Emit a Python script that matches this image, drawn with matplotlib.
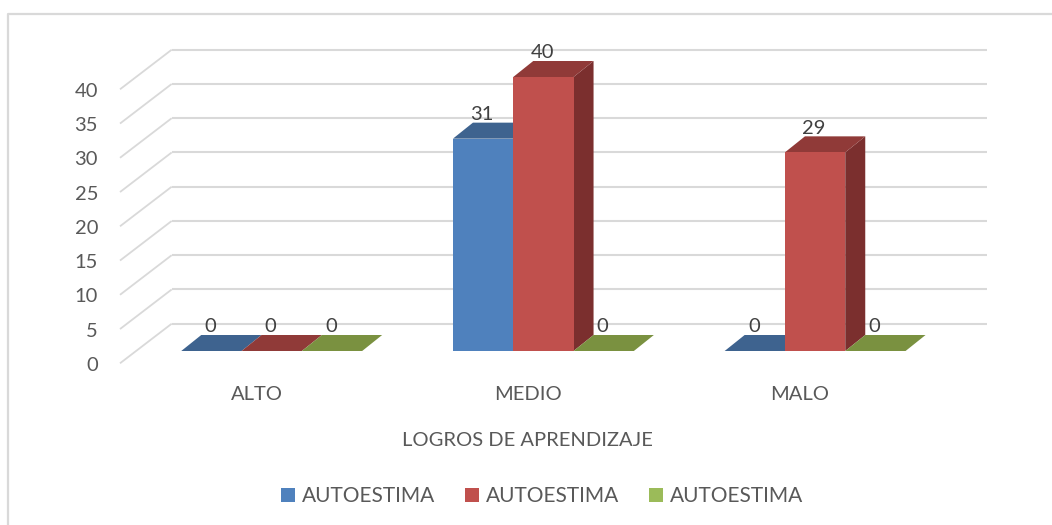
import matplotlib
matplotlib.use('Agg')
import matplotlib.pyplot as plt
from matplotlib.patches import Polygon, Patch

plt.rcParams['font.family'] = ['Lato', 'DejaVu Sans']

categorias = ['ALTO', 'MEDIO', 'MALO']
serie_1 = [0, 31, 0]
serie_2 = [0, 40, 29]
serie_3 = [0, 0, 0]
nombres = ['AUTOESTIMA', 'AUTOESTIMA', 'AUTOESTIMA']
ticks_y = [0, 5, 10, 15, 20, 25, 30, 35, 40]
titulo_x = 'LOGROS DE APRENDIZAJE'

# colores: frente, tapa, lado
azul = ('#4F81BD', '#3E638F', '#34547A')
rojo = ('#C0504D', '#903A38', '#7B2F2E')
verde = ('#9BBB59', '#7A9140', '#667A36')
gris_texto = '#595959'
gris_linea = '#D9D9D9'

# escala en pixeles de la figura
ancho, alto = 1052, 525
px_x = 271.7   # pixeles por categoria
px_y = 6.85    # pixeles por unidad
x0, y0 = 271.7, 351.0

fig = plt.figure(figsize=(ancho / 100, alto / 100), dpi=100)
ax = fig.add_axes([0, 0, 1, 1])
ax.set_xlim(-x0 / px_x, (ancho - x0) / px_x)
ax.set_ylim((y0 - alto) / px_y, y0 / px_y)
ax.axis('off')

ancho_barra = 60.3 / px_x
prof_x = 20 / px_x
prof_y = 16 / px_y

# pared y piso con perspectiva
izq_frente = (120 - x0) / px_x
izq_fondo = (171.7 - x0) / px_x
der_fondo = (987 - x0) / px_x
dy_frente = -12.3 / px_y
dy_fondo = 27.3 / px_y

for t in ticks_y:
    ax.plot([izq_frente, izq_fondo], [t + dy_frente, t + dy_fondo],
            color=gris_linea, lw=1.3, zorder=1, solid_capstyle='butt')
    ax.plot([izq_fondo, der_fondo], [t + dy_fondo, t + dy_fondo],
            color=gris_linea, lw=1.5, zorder=1, solid_capstyle='butt')
    ax.annotate(str(t), (izq_frente, t + dy_frente), xytext=(-22, -2),
                textcoords='offset pixels', ha='right', va='center',
                fontsize=14.5, color=gris_texto)


def barra(x, v, colores, z):
    izq = x
    der = x + ancho_barra
    # lado
    if v > 0:
        ax.add_patch(Polygon([(der, 0), (der + prof_x, prof_y), (der + prof_x, v + prof_y), (der, v)],
                             facecolor=colores[2], edgecolor='none', zorder=z))
    # tapa
    ax.add_patch(Polygon([(izq, v), (izq + prof_x, v + prof_y), (der + prof_x, v + prof_y), (der, v)],
                         facecolor=colores[1], edgecolor='none', zorder=z))
    # frente
    if v > 0:
        ax.bar(izq, v, width=ancho_barra, align='edge', color=colores[0], zorder=z + 0.1)
    ax.annotate(str(v), (x + ancho_barra / 2, v), xytext=(-1, 24), textcoords='offset pixels',
                ha='center', va='center', fontsize=14.5, color='#404040', zorder=20)


series = [serie_1, serie_2, serie_3]
colores = [azul, rojo, verde]
for i in range(len(categorias)):
    for j in range(3):
        x = i + (j - 1.5) * ancho_barra
        barra(x, series[j][i], colores[j], 3 + j)
    ax.annotate(categorias[i], (i, 0), xytext=(-15, -44), textcoords='offset pixels',
                ha='center', va='center', fontsize=14.5, color=gris_texto)

ax.annotate(titulo_x, (1, 0), xytext=(-16, -90), textcoords='offset pixels',
            ha='center', va='center', fontsize=14.5, color=gris_texto)

# leyenda
handles = [Patch(facecolor=c[0], edgecolor='none') for c in colores]
ley = ax.legend(handles, nombres, ncol=3, loc='center', frameon=False,
                bbox_to_anchor=(542 / ancho, 1 - 496 / alto), bbox_transform=fig.transFigure,
                fontsize=15, labelcolor=gris_texto, handlelength=0.67, handleheight=0.67,
                handletextpad=0.32, columnspacing=1.45, borderpad=0)

# borde del grafico
borde_x = [8 / ancho, 8 / ancho, 1]
borde_y = [0, 1 - 13.5 / alto, 1 - 13.5 / alto]
fig.add_artist(plt.Line2D(borde_x, borde_y, color=gris_linea, lw=1.6))

fig.savefig('out.png', dpi=100)
